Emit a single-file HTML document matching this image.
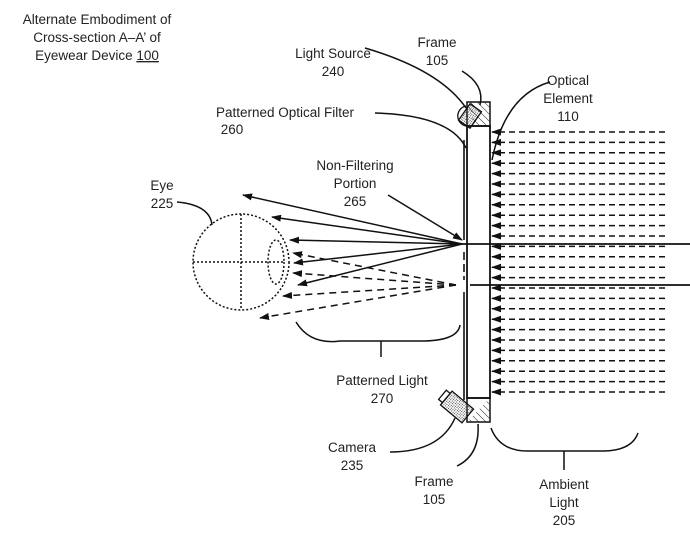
<!DOCTYPE html>
<html><head><meta charset="utf-8"><style>
body{margin:0;background:#fff}
svg{display:block}
text{font-family:"Liberation Sans",sans-serif;font-size:13.5px;fill:#222}
</style></head><body>
<svg id="s" width="690" height="545" viewBox="0 0 690 545" xmlns="http://www.w3.org/2000/svg">
<defs>
<marker id="ae" markerWidth="10" markerHeight="7" refX="9" refY="3.5" orient="auto" markerUnits="userSpaceOnUse"><path d="M0,0 L10,3.5 L0,7 z" fill="#111"/></marker>
<pattern id="hat" width="5" height="5" patternUnits="userSpaceOnUse" patternTransform="rotate(-45)"><line x1="0" y1="0" x2="0" y2="5" stroke="#222" stroke-width="1"/></pattern>
<pattern id="dot" width="2" height="2" patternUnits="userSpaceOnUse"><rect width="1" height="1" fill="#444"/></pattern>
</defs>
<g text-anchor="middle">
<text x="97" y="24">Alternate Embodiment of</text>
<text x="97" y="42">Cross-section A–A’ of</text>
<text x="97" y="60">Eyewear Device <tspan text-decoration="underline">100</tspan></text>
<text x="333" y="58">Light Source</text><text x="333" y="76">240</text>
<text x="437" y="47">Frame</text><text x="437" y="65">105</text>
<text x="568" y="85">Optical</text><text x="568" y="103">Element</text><text x="568" y="121">110</text>
<text x="285" y="117">Patterned Optical Filter</text><text x="232" y="134">260</text>
<text x="355" y="170">Non-Filtering</text><text x="355" y="188">Portion</text><text x="355" y="206">265</text>
<text x="162" y="190">Eye</text><text x="162" y="208">225</text>
<text x="382" y="385">Patterned Light</text><text x="382" y="403">270</text>
<text x="352" y="452">Camera</text><text x="352" y="470">235</text>
<text x="434" y="486">Frame</text><text x="434" y="504">105</text>
<text x="564" y="489">Ambient</text><text x="564" y="507">Light</text><text x="564" y="525">205</text>
</g>
<g fill="none" stroke="#111" stroke-width="1.5">
<path d="M365,48 Q440,70 466,108"/>
<path d="M462,71 Q485,85 480,105"/>
<path d="M550,82 Q505,95 492,160" />
<path d="M375,113 Q450,115 466,148"/>
<path d="M388,195 L462,240" marker-end="url(#ae)"/>
<path d="M177,202 Q210,205 212,225"/>
<path d="M296,322 Q310,345 340,341 L425,341 Q458,340 460,325"/>
<path d="M381,341 L381,357"/>
<path d="M390,452 Q440,452 455,418"/>
<path d="M457,466 Q480,455 478,424"/>
<path d="M491,428 Q500,452 530,451 L605,451 Q632,450 638,433"/>
<path d="M564,451 L564,470"/>
<rect x="467" y="126" width="23" height="272" stroke-width="1.8"/>
<rect x="467" y="102" width="23" height="24"/>
<rect x="467" y="398" width="23" height="24"/>
<line x1="464" y1="140" x2="464" y2="240" stroke-width="1.6"/>
<line x1="464" y1="252" x2="464" y2="280" stroke-width="1.6" stroke-dasharray="8,4"/>
<line x1="464" y1="292" x2="464" y2="400" stroke-width="1.6"/>
<line x1="462" y1="244" x2="690" y2="244" stroke-width="1.8"/>
<line x1="470" y1="285" x2="690" y2="285" stroke-width="1.8"/>
<circle cx="241" cy="262" r="48" stroke-dasharray="2,2"/>
<ellipse cx="276" cy="262" rx="8" ry="22" stroke-dasharray="2,2"/>
<line x1="193" y1="262" x2="284" y2="262" stroke-dasharray="2,2"/>
<line x1="241" y1="214" x2="241" y2="310" stroke-dasharray="2,2"/>
</g>
<path d="M467,102 L490,102 L490,126 L475,126 z" fill="url(#hat)" stroke="none"/>
<path d="M490,398 L490,422 L467,422 z" fill="url(#hat)" stroke="none"/>
<path d="M466,106 A9,9 0 1 0 470,126" fill="none" stroke="#111" stroke-width="1.3"/>
<g transform="translate(470,116) rotate(-55)"><rect x="-10" y="-7" width="20" height="14" fill="url(#dot)" stroke="#111" stroke-width="1.3"/></g>
<g transform="translate(457,407) rotate(40)"><rect x="-14" y="-9" width="28" height="18" fill="url(#dot)" stroke="#111" stroke-width="1.3"/><rect x="-19" y="-6" width="5" height="12" fill="#fff" stroke="#111" stroke-width="1.3"/></g>
<g id="rays" fill="none" stroke="#111" stroke-width="1.5"></g>
</svg>
<script>
var g=document.getElementById('rays'),ns='http://www.w3.org/2000/svg';
function ln(x1,y1,x2,y2,d){var l=document.createElementNS(ns,'line');l.setAttribute('x1',x1);l.setAttribute('y1',y1);l.setAttribute('x2',x2);l.setAttribute('y2',y2);if(d)l.setAttribute('stroke-dasharray',d);l.setAttribute('marker-end','url(#ae)');g.appendChild(l);}
for(var y=132;y<=401;y+=10.4){ln(665,y,492,y,'6,4');}
[[243,195],[272,217],[290,240],[294,263],[298,285]].forEach(function(p){ln(462,244,p[0],p[1]);});
[[293,253],[293,273],[283,296],[260,318]].forEach(function(p){ln(456,285,p[0],p[1],'7,5');});
</script>
</body></html>
